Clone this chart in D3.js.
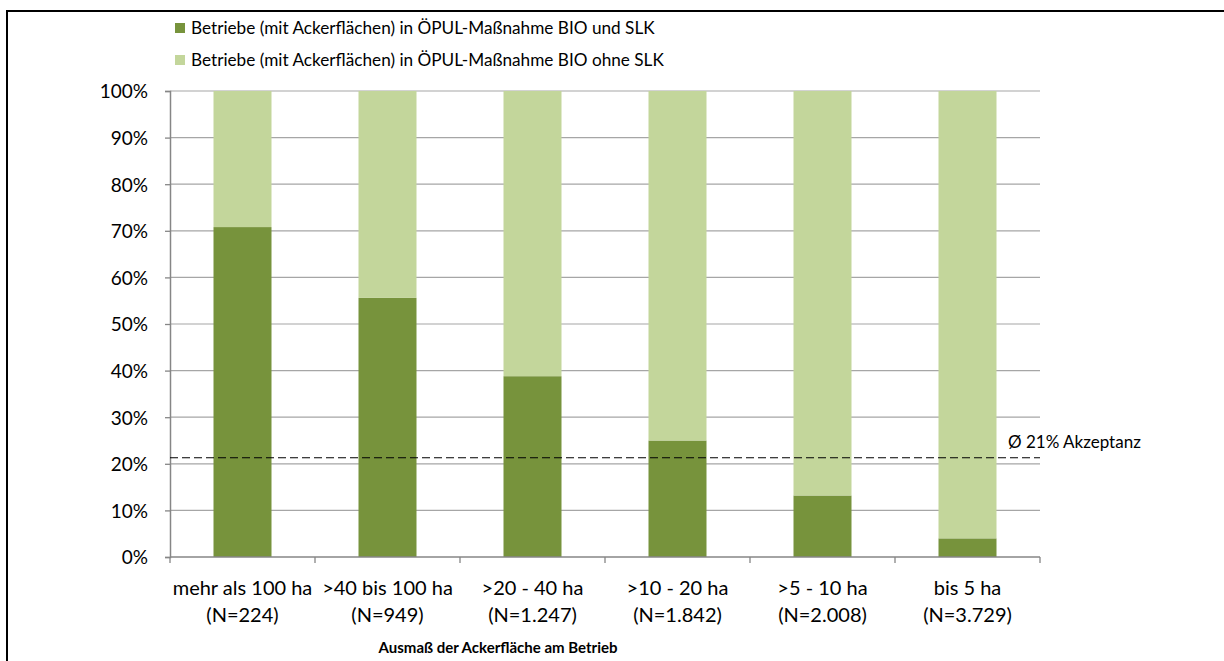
<!DOCTYPE html>
<html>
<head>
<meta charset="utf-8">
<script src="https://cdn.jsdelivr.net/npm/d3@7"></script>
<style>
  html, body { margin: 0; padding: 0; background: #fff; overflow: hidden; }
  svg { display: block; }
  text { font-family: Lato, "Open Sans", sans-serif; fill: #000; }
</style>
</head>
<body>
<svg id="chart"></svg>
<script>
const width = 1224, height = 661;

// data
const categories = ["mehr als 100 ha", ">40 bis 100 ha", ">20 - 40 ha", ">10 - 20 ha", ">5 - 10 ha", "bis 5 ha"];
const counts = ["(N=224)", "(N=949)", "(N=1.247)", "(N=1.842)", "(N=2.008)", "(N=3.729)"];
const mitSLK = [70.8, 55.6, 38.8, 25.0, 13.2, 4.0];
const ohneSLK = mitSLK.map(v => 100 - v);
const seriesNames = [
  "Betriebe (mit Ackerflächen) in ÖPUL-Maßnahme BIO und SLK",
  "Betriebe (mit Ackerflächen) in ÖPUL-Maßnahme BIO ohne SLK"
];
const avgAcceptance = 21.3;
const yTicks = [0, 10, 20, 30, 40, 50, 60, 70, 80, 90, 100];

const dark_green = "#77933C";
const light_green = "#C3D69B";
const axis_color = "#868686";
const grid_color = "#A6A6A6";

const margin = {left: 170, right: 184, top: 91, bottom: 104};

var svg = d3.select("#chart").attr("width", width).attr("height", height);

// outer frame: only top and left edges are inside the picture
svg.append("path")
  .attr("d", `M7,${height} V11 H${width}`)
  .attr("fill", "none").attr("stroke", "#000").attr("stroke-width", 2);

var x = d3.scaleBand().domain(categories).range([margin.left, width - margin.right]).padding(0);
var y = d3.scaleLinear().domain([0, 100]).range([height - margin.bottom, margin.top]);
const barW = x.bandwidth() * 0.4;

// gridlines
svg.append("g")
  .selectAll("line")
  .data(yTicks.filter(t => t > 0))
  .enter().append("line")
  .attr("x1", margin.left).attr("x2", width - margin.right)
  .attr("y1", d => y(d)).attr("y2", d => y(d))
  .attr("stroke", grid_color).attr("stroke-width", 1.2);

// stacked bars
var stack = d3.stack().keys(["a", "b"])(categories.map((c, i) => ({cat: c, a: mitSLK[i], b: ohneSLK[i]})));
const fills = [dark_green, light_green];
stack.forEach((layer, k) => {
  svg.append("g").selectAll("rect")
    .data(layer)
    .enter().append("rect")
    .attr("x", d => x(d.data.cat) + (x.bandwidth() - barW) / 2)
    .attr("width", barW)
    .attr("y", d => y(d[1]))
    .attr("height", d => y(d[0]) - y(d[1]))
    .attr("fill", fills[k]);
});

// y axis
var yAxis = svg.append("g")
  .attr("transform", `translate(${margin.left},0)`)
  .call(d3.axisLeft(y).tickValues(yTicks).tickFormat(d => d + "%").tickSize(5).tickPadding(17));
yAxis.select(".domain").attr("stroke", axis_color).attr("stroke-width", 1.5);
yAxis.selectAll(".tick line").attr("stroke", axis_color).attr("stroke-width", 1.3);
yAxis.selectAll(".tick text")
  .style("font-size", "19px").style("font-family", "Lato, 'Open Sans', sans-serif")
  .attr("fill", "#000").attr("dy", "0.36em");

// x axis
var xAxisG = svg.append("g").attr("transform", `translate(0,${y(0)})`);
xAxisG.append("line")
  .attr("x1", margin.left).attr("x2", width - margin.right)
  .attr("stroke", axis_color).attr("stroke-width", 1.5);
xAxisG.selectAll("line.tk")
  .data(d3.range(categories.length + 1))
  .enter().append("line").attr("class", "tk")
  .attr("x1", i => margin.left + i * x.step()).attr("x2", i => margin.left + i * x.step())
  .attr("y1", 0).attr("y2", 6)
  .attr("stroke", axis_color).attr("stroke-width", 1.3);

var labels = svg.append("g").selectAll("text")
  .data(categories)
  .enter().append("text")
  .attr("text-anchor", "middle")
  .style("font-size", "20px");
labels.append("tspan")
  .attr("x", d => x(d) + x.bandwidth() / 2).attr("y", 595)
  .text(d => d);
labels.append("tspan")
  .attr("x", d => x(d) + x.bandwidth() / 2).attr("y", 622)
  .text((d, i) => counts[i]);

// axis title
svg.append("text")
  .attr("x", 498).attr("y", 653)
  .attr("text-anchor", "middle")
  .style("font-size", "15px").style("font-weight", "bold")
  .text("Ausmaß der Ackerfläche am Betrieb");

// average line
svg.append("line")
  .attr("x1", margin.left).attr("x2", width - margin.right)
  .attr("y1", y(avgAcceptance)).attr("y2", y(avgAcceptance))
  .attr("stroke", "#000").attr("stroke-width", 1.2)
  .attr("stroke-dasharray", "8,4");
svg.append("text")
  .attr("x", 1008).attr("y", 448)
  .style("font-size", "17px")
  .text("Ø " + Math.round(avgAcceptance) + "% Akzeptanz");

// legend
var legend = svg.append("g").selectAll("g")
  .data(seriesNames)
  .enter().append("g")
  .attr("transform", (d, i) => `translate(175,${28 + i * 32})`);
legend.append("rect")
  .attr("x", 0).attr("y", -5).attr("width", 10).attr("height", 10)
  .attr("fill", (d, i) => fills[i]);
legend.append("text")
  .attr("x", 16).attr("y", 6)
  .style("font-size", "17.2px")
  .text(d => d);
</script>
</body>
</html>
